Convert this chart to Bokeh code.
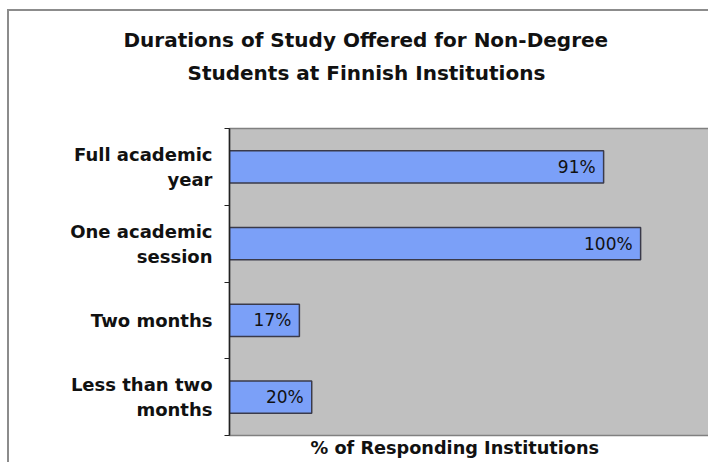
from bokeh.plotting import figure
from bokeh.models import Range1d, FixedTicker, Title, ColumnDataSource
from bokeh.core.properties import value
from bokeh.embed import file_html
from bokeh.resources import INLINE

# ---- data (top to bottom) ----
categories = ["Full academic\nyear", "One academic\nsession", "Two months", "Less than two\nmonths"]
percent = [91, 100, 17, 20]
title_line1 = "Durations of Study Offered for Non-Degree"
title_line2 = "Students at Finnish Institutions"
x_title = "% of Responding Institutions"

n = len(categories)
centers = [i + 0.5 for i in range(n)]
bounds = [float(i) for i in range(n + 1)]
labels = [f"{v}%" for v in percent]

src = ColumnDataSource(dict(y=centers, right=percent, lab=labels))

p = figure(width=701, height=453, output_backend="svg", toolbar_location=None,
           x_range=Range1d(0, 117), y_range=Range1d(n, 0),
           min_border_left=220, min_border_right=0, min_border_top=0, min_border_bottom=29,
           background_fill_color="#c0c0c0", border_fill_color="white",
           title=" ",
           styles={"margin-left": "7px", "margin-top": "9px",
                   "border-left": "2px solid #8c8c8c", "border-top": "2px solid #8c8c8c"})
p.outline_line_color = "#808080"
p.outline_line_width = 1.5
p.grid.visible = False
p.xaxis.visible = False

yax = p.yaxis[0]
yax.ticker = FixedTicker(ticks=centers, minor_ticks=bounds)
yax.major_label_overrides = {c: lab for c, lab in zip(centers, categories)}
yax.major_tick_out = 0
yax.major_tick_in = 0
yax.minor_tick_out = 5
yax.minor_tick_in = 0
yax.minor_tick_line_color = "#222222"
yax.axis_line_color = "#222222"
yax.axis_line_width = 1.5
yax.major_label_text_font = "DejaVu Sans"
yax.major_label_text_font_style = "bold"
yax.major_label_text_font_size = "18px"
yax.major_label_text_color = "#111111"
yax.major_label_standoff = 12

p.hbar(y="y", right="right", left=0, height=0.42, source=src,
       fill_color="#7ba0f8", line_color="#3a3a4a", line_width=1.5)
p.text(x="right", y="y", text="lab", source=src, x_offset=-8,
       text_align="right", text_baseline="middle",
       text_font=value("DejaVu Sans"), text_font_size="17px", text_color="#111111")

# top spacer (outermost)
p.title.text_font_size = "8px"
p.title.standoff = 0

# panels added first sit closest to the frame
tstyle = dict(align="left", text_font="DejaVu Sans", text_font_size="20px",
              text_font_style="bold", text_color="#111111", standoff=7)
spacer = Title(text=" ", text_font_size="10px", standoff=27)
t2 = Title(text=title_line2, offset=-42, **tstyle)
t1 = Title(text=title_line1, offset=-106, **tstyle)
p.add_layout(spacer, "above")
p.add_layout(t2, "above")
p.add_layout(t1, "above")

tb = Title(text=x_title, align="left", offset=81, text_font="DejaVu Sans",
           text_font_size="17.7px", text_font_style="bold", text_color="#111111", standoff=1)
p.add_layout(tb, "below")

open("out.html", "w").write(file_html(p, INLINE))
